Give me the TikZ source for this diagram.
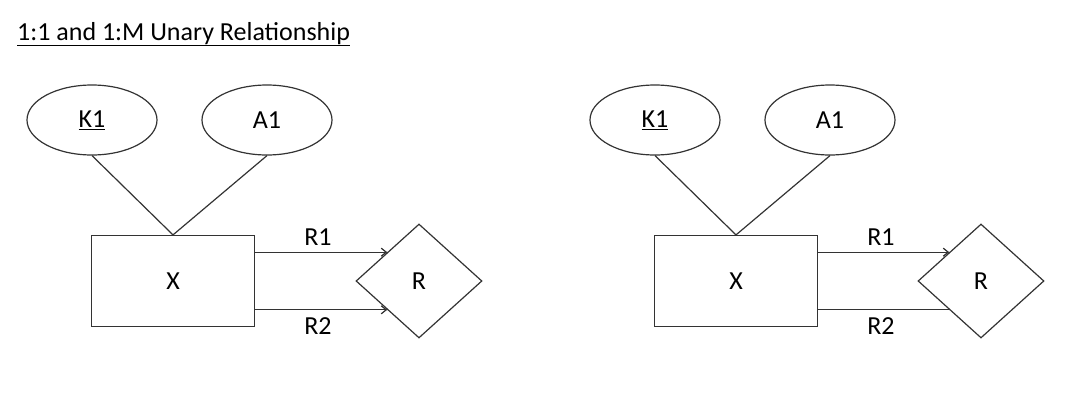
\documentclass[tikz,border=0pt]{standalone}
\usepackage{fontspec}
\setmainfont{Carlito}
\usetikzlibrary{shapes.geometric,arrows.meta}
\definecolor{ink}{HTML}{333333}
\begin{document}
\begin{tikzpicture}[x=1pt,y=-1pt,
  font=\fontsize{26}{30}\selectfont,
  every node/.style={inner sep=0pt},
  attr/.style={ellipse,draw=ink,line width=1.2pt,minimum width=130pt,minimum height=70pt},
  ent/.style={rectangle,draw=ink,line width=1.2pt,minimum width=163pt,minimum height=91pt},
  rel/.style={diamond,draw=ink,line width=1.2pt,minimum width=126pt,minimum height=114pt},
  conn/.style={draw=ink,line width=1.2pt},
  arr/.style={conn,-{Straight Barb[length=5pt,width=8pt]}},
  lbl/.style={text=black}]
\useasboundingbox (0,0) rectangle (1072,402);
\node[lbl,anchor=base west] (title) at (17,40) {\underline{1:1 and 1:M Unary Relationship}};
% left diagram
\node[attr] (k1a) at (92,120) {\underline{K1}};
\node[attr] (a1a) at (267,120) {A1};
\node[ent] (xa) at (173,281) {X};
\node[rel] (ra) at (419,281) {R};
\draw[conn] (k1a.south) -- (xa.north);
\draw[conn] (a1a.south) -- (xa.north);
\draw[arr] (xa.east |- ra.north west) -- (ra.north west);
\draw[arr] (xa.east |- ra.south west) -- (ra.south west);
\node[lbl] (r1a) at (318,237) {R1};
\node[lbl] (r2a) at (318,326) {R2};
% right diagram
\node[attr] (k1b) at (655,120) {\underline{K1}};
\node[attr] (a1b) at (830,120) {A1};
\node[ent] (xb) at (736,281) {X};
\node[rel] (rb) at (981,281) {R};
\draw[conn] (k1b.south) -- (xb.north);
\draw[conn] (a1b.south) -- (xb.north);
\draw[arr] (xb.east |- rb.north west) -- (rb.north west);
\draw[conn] (xb.east |- rb.south west) -- (rb.south west);
\node[lbl] (r1b) at (881,237) {R1};
\node[lbl] (r2b) at (881,326) {R2};
\end{tikzpicture}
\end{document}
